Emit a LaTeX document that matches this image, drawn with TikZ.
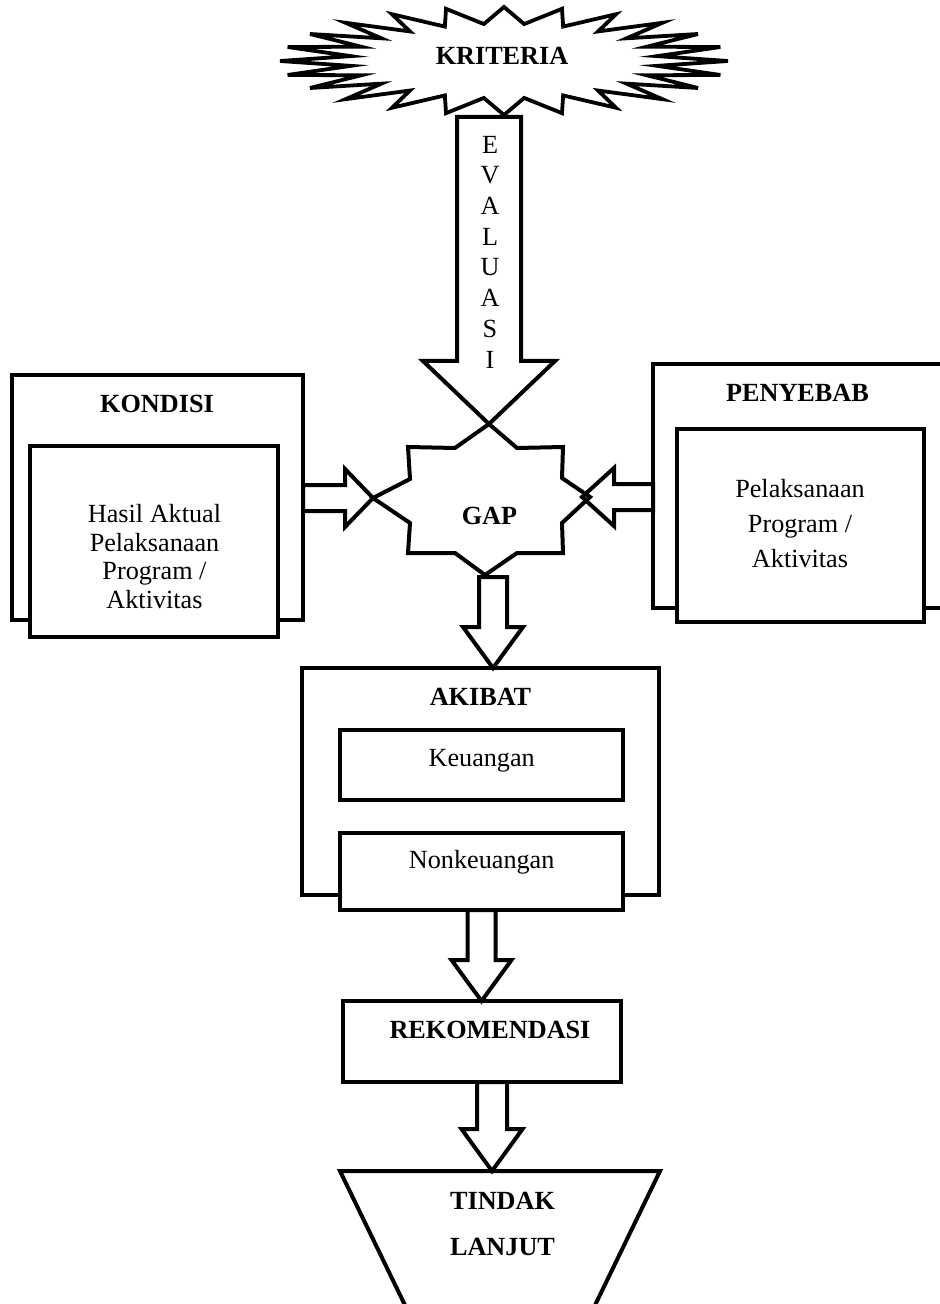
\documentclass[tikz,border=0pt]{standalone}
\usepackage{fontspec}
\setmainfont{Liberation Serif}
\usetikzlibrary{calc}

% Block arrow from #1 to #2: shaft half width #3, head half width #4, head length #5
\newcommand{\fatarrow}[5]{%
  \coordinate (fabase) at ($(#2)!#5!(#1)$);
  \draw[blockarrow]
    ($(#1)!#3!90:(#2)$) -- ($(fabase)!#3!90:(#2)$) -- ($(fabase)!#4!90:(#2)$)
    -- (#2)
    -- ($(fabase)!#4!-90:(#2)$) -- ($(fabase)!#3!-90:(#2)$) -- ($(#1)!#3!-90:(#2)$)
    -- cycle;}

\begin{document}
\begin{tikzpicture}[x=0.5pt,y=-0.5pt,
  outline/.style={draw=black, line width=2pt, line join=miter},
  boxA/.style={outline, fill=white, inner sep=0pt, outer sep=0pt},
  blockarrow/.style={outline, fill=white},
  title/.style={font=\fontsize{13.1}{15}\selectfont\bfseries, inner sep=0pt, anchor=base},
  body/.style={font=\fontsize{13.1}{15}\selectfont, inner sep=0pt, anchor=base},
]
\useasboundingbox (0,0) rectangle (940,1304);
\clip (0,0) rectangle (940,1304);

% 24-point star behind the criteria label
\draw[outline, line width=1.9pt, fill=white] (728,61)
  \foreach \k in {0,...,23} {
    -- ({504+154.56*cos(\k*15+7.5)},{61-37.26*sin(\k*15+7.5)})
    -- ({504+224*cos(\k*15+15)},{61-54*sin(\k*15+15)}) } -- cycle;

% outer and inner boxes
\node[boxA, minimum width=145.5pt, minimum height=122.5pt] (kondisi) at (157.5,497.5) {};
\node[boxA, minimum width=124pt, minimum height=95.5pt] (kondisiIsi) at (154,541.5) {};
\node[boxA, minimum width=152.5pt, minimum height=122pt] (penyebab) at (805.5,486) {};
\node[boxA, minimum width=123.5pt, minimum height=96.5pt] (penyebabIsi) at (800.5,525.5) {};
\node[boxA, minimum width=178.5pt, minimum height=113.5pt] (akibat) at (480.5,781.5) {};
\node[boxA, minimum width=141.5pt, minimum height=35pt] (keuangan) at (481.5,765) {};
\node[boxA, minimum width=141.5pt, minimum height=38.5pt] (nonkeuangan) at (481.5,871.5) {};
\node[boxA, minimum width=139pt, minimum height=40.5pt] (rekomendasi) at (482,1041.5) {};

% follow-up trapezoid (runs off the bottom edge)
\draw[outline, fill=white] (340,1171) -- (660,1171) -- (583,1330) -- (417,1330) -- cycle;
\coordinate (tlTop) at (500,1171);

% corners of the gap star
\coordinate (gapT) at (489,424);
\coordinate (gapR) at (590,497);
\coordinate (gapB) at (485,575);
\coordinate (gapL) at (373,498);

% block arrows
\coordinate (evalTop) at (489,117);
\fatarrow{evalTop}{gapT}{16pt}{33pt}{31.5pt}
\coordinate (kondisiOut) at (kondisi.east |- gapL);
\fatarrow{kondisiOut}{gapL}{6.5pt}{14.5pt}{14pt}
\coordinate (penyebabOut) at (penyebab.west |- gapR);
\coordinate (gapRin) at ($(gapR)+(-8,0)$);
\fatarrow{penyebabOut}{gapRin}{6.5pt}{14.5pt}{16pt}
\coordinate (gapOut) at ($(gapB)+(8,2)$);
\coordinate (akibatIn) at (gapOut |- akibat.north);
\fatarrow{gapOut}{akibatIn}{7pt}{15pt}{20.5pt}
\coordinate (rekIn) at (nonkeuangan.south |- rekomendasi.north);
\fatarrow{nonkeuangan.south}{rekIn}{7pt}{15pt}{20.5pt}
\coordinate (rekOut) at ($(rekomendasi.south)+(10,0)$);
\coordinate (tlIn) at (rekOut |- tlTop);
\fatarrow{rekOut}{tlIn}{7.5pt}{15.25pt}{21pt}

% gap star outline
\draw[outline] (gapT) -- (517,448) -- (563,447) -- (562,478) -- (gapR) -- (562,523)
  -- (563,553) -- (517,553) -- (gapB) -- (455,553) -- (408,553) -- (410,523)
  -- (gapL) -- (410,479) -- (408,447) -- (455,448) -- cycle;

% labels
\node[title] (tKriteria) at (502,65) {KRITERIA};
\node[body, anchor=center, align=center, font=\fontsize{13.1}{15.35}\selectfont] (tEvaluasi) at (490,252) {E\\V\\A\\L\\U\\A\\S\\I};
\node[title] (tGap) at (489.5,524) {GAP};
\node[title] (tKondisi) at (157,413) {KONDISI};
\node[body, anchor=center, align=center, font=\fontsize{13.1}{14.25}\selectfont] (tKondisiIsi) at (154.5,556.5) {Hasil Aktual\\Pelaksanaan\\Program /\\Aktivitas};
\node[title] (tPenyebab) at (797.5,401) {PENYEBAB};
\node[body, anchor=center, align=center, font=\fontsize{13.1}{17.5}\selectfont] (tPenyebabIsi) at (800,524) {Pelaksanaan\\Program /\\Aktivitas};
\node[title] (tAkibat) at (480.5,705) {AKIBAT};
\node[body] (tKeuangan) at (481.7,766) {Keuangan};
\node[body] (tNonkeuangan) at (481.7,868) {Nonkeuangan};
\node[title] (tRekomendasi) at (490,1038) {REKOMENDASI};
\node[title, anchor=center, align=center, font=\fontsize{13.1}{23}\selectfont\bfseries] (tTindak) at (502.5,1223.5) {TINDAK\\LANJUT};
\end{tikzpicture}
\end{document}
